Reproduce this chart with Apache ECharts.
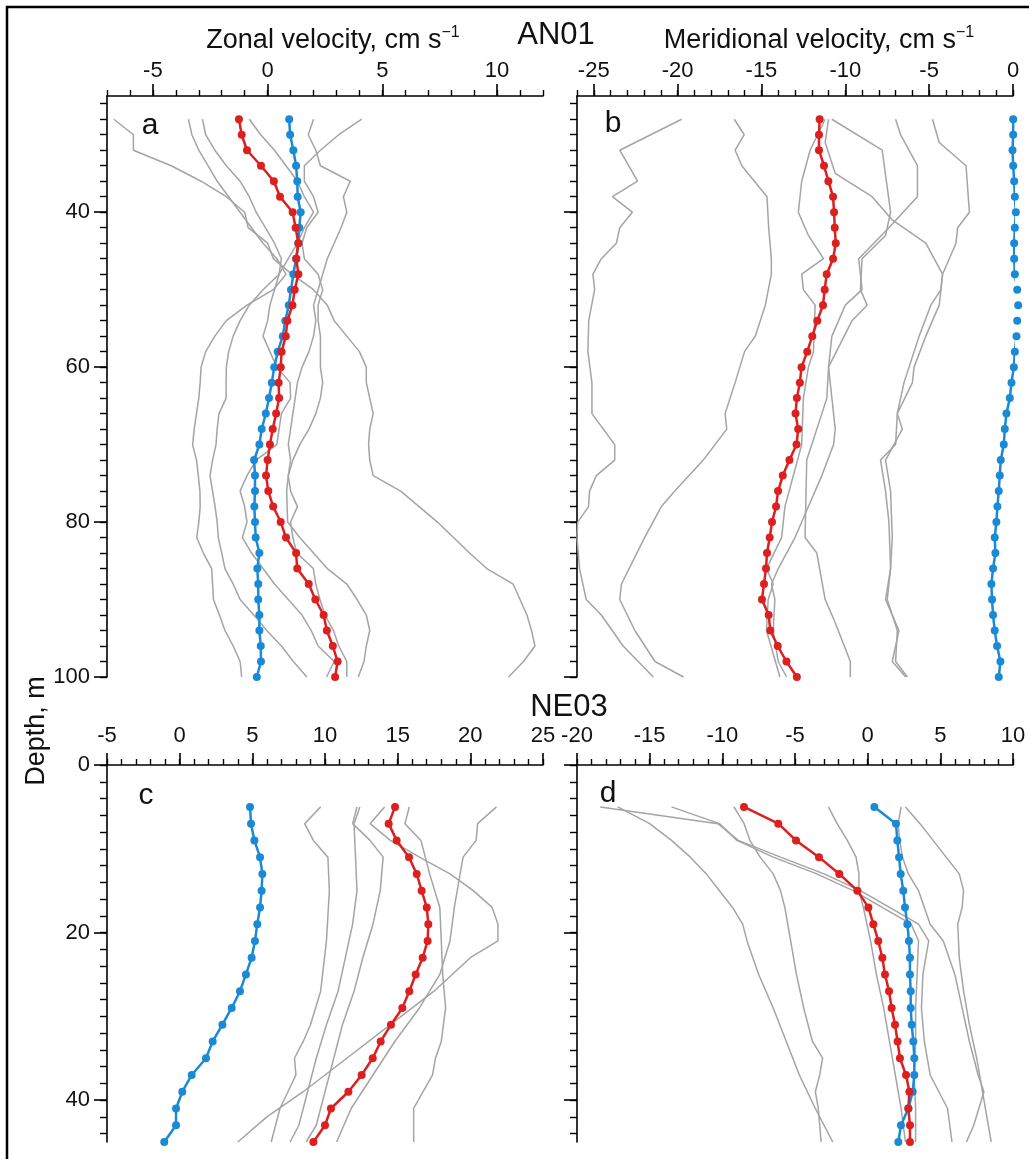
<!DOCTYPE html>
<html>
<head>
<meta charset="utf-8">
<script src="https://cdn.jsdelivr.net/npm/echarts@6/dist/echarts.min.js"></script>
<style>
  html, body { margin: 0; padding: 0; background: #fff; }
  #chart { width: 1029px; height: 1159px; }
</style>
</head>
<body>
<div id="chart"></div>
<script>
// depth levels (m)
const depthAN01 = [28,30,32,34,36,38,40,42,44,46,48,50,52,54,56,58,60,62,64,66,68,70,72,74,76,78,80,82,84,86,88,90,92,94,96,98,100];
const depthNE03 = [5,7,9,11,13,15,17,19,21,23,25,27,29,31,33,35,37,39,41,43,45];

// AN01 zonal (cm/s)
const zonalAN01Red  = [-1.25,-1.13,-0.90,-0.29,0.27,0.54,1.09,1.22,1.34,1.25,1.34,1.18,1.08,0.86,0.79,0.61,0.57,0.48,0.50,0.37,0.22,0.10,0.00,-0.07,0.03,0.24,0.57,0.80,1.24,1.29,1.79,2.08,2.44,2.58,2.84,3.05,2.94];
const zonalAN01Blue = [0.94,0.98,1.12,1.24,1.29,1.31,1.44,1.38,1.34,1.24,1.12,1.02,0.92,0.77,0.66,0.44,0.29,0.18,0.06,-0.08,-0.26,-0.36,-0.59,-0.55,-0.55,-0.58,-0.55,-0.52,-0.36,-0.45,-0.41,-0.41,-0.36,-0.36,-0.30,-0.29,-0.47];
// AN01 meridional
const meridAN01Red  = [-11.53,-11.57,-11.57,-11.27,-11.01,-10.73,-10.67,-10.63,-10.57,-10.73,-11.11,-11.23,-11.33,-11.67,-11.97,-12.27,-12.61,-12.71,-12.89,-12.97,-12.81,-12.91,-13.33,-13.73,-14.01,-14.13,-14.37,-14.51,-14.67,-14.73,-14.85,-14.97,-14.57,-14.47,-14.03,-13.51,-12.89];
const meridAN01Blue = [0.01,0.01,-0.03,0.01,0.07,0.11,0.17,0.11,0.07,0.07,0.11,0.25,0.31,0.25,0.21,0.11,0.05,-0.09,-0.19,-0.39,-0.49,-0.55,-0.73,-0.79,-0.85,-0.93,-0.99,-1.09,-1.05,-1.19,-1.29,-1.25,-1.19,-1.09,-0.95,-0.75,-0.85];
// NE03 zonal
const zonalNE03Red  = [14.82,14.38,14.93,15.78,16.31,16.65,17.0,17.11,17.06,16.72,16.24,15.80,15.32,14.54,13.83,13.28,12.52,11.61,10.41,10.0,9.20];
const zonalNE03Blue = [4.84,4.91,5.14,5.53,5.69,5.64,5.53,5.34,5.18,4.95,4.56,4.15,3.58,2.94,2.27,1.81,0.83,0.18,-0.25,-0.25,-1.06];
// NE03 meridional
const meridNE03Red  = [-8.51,-6.15,-4.93,-3.35,-1.95,-0.71,0.05,0.39,0.73,1.01,1.19,1.47,1.65,1.88,2.06,2.22,2.64,2.87,2.80,2.91,2.91];
const meridNE03Blue = [0.46,1.95,2.04,2.16,2.27,2.45,2.57,2.73,2.84,2.91,2.91,2.96,2.96,3.03,3.14,3.21,3.21,3.10,2.80,2.29,2.11];

// individual profiles, [velocity, depth]
const grayZonalAN01 = [
  [[-6.7,28],[-5.85,30],[-5.85,32],[-4.2,34],[-2.9,36],[-1.8,38],[-1.0,40],[-0.85,42],[0.0,44],[0.25,46],[1.05,48],[2.0,50],[2.6,52],[2.9,54],[3.45,56],[4.0,58],[4.3,60],[4.3,62],[4.45,64],[4.6,66],[4.45,68],[4.4,70],[4.45,72],[4.6,74],[5.8,76],[6.6,78],[7.4,80],[8.1,82],[8.8,84],[9.55,86],[10.7,88],[11.0,90],[11.3,92],[11.5,94],[11.65,96],[11.15,98],[10.5,100]],
  [[4.1,28],[3.1,30],[2.3,32],[1.6,34],[1.6,36],[2.0,38],[2.2,40],[1.7,42],[1.5,44],[1.6,46],[2.2,48],[2.4,50],[2.2,52],[2.2,54],[2.3,56],[2.3,58],[2.3,60],[2.4,62],[2.3,64],[2.1,66],[1.8,68],[1.4,70],[1.1,72],[0.9,74],[0.83,76],[0.85,78],[0.87,80],[1.4,82],[2.0,84],[2.6,86],[3.45,88],[3.9,90],[4.3,92],[4.45,94],[4.3,96],[4.2,98],[3.95,100]],
  [[-3.45,28],[-3.3,30],[-3.0,32],[-2.6,34],[-2.2,36],[-1.7,38],[-1.2,40],[-0.7,42],[-0.2,44],[0.4,46],[0.8,48],[0.25,50],[-0.9,52],[-1.8,54],[-2.3,56],[-2.7,58],[-2.9,60],[-2.94,62],[-3.0,64],[-3.1,66],[-3.2,68],[-3.27,70],[-3.1,72],[-3.02,74],[-2.95,76],[-2.94,78],[-3.0,80],[-3.09,82],[-2.8,84],[-2.44,86],[-2.4,88],[-2.36,90],[-2.1,92],[-1.86,94],[-1.5,96],[-1.2,98],[-1.13,100]],
  [[-2.84,28],[-2.7,30],[-2.3,32],[-1.8,34],[-1.2,36],[-0.8,38],[-0.5,40],[-0.1,42],[0.3,44],[0.6,46],[0.5,48],[-0.2,50],[-0.8,52],[-1.2,54],[-1.5,56],[-1.7,58],[-1.8,60],[-1.81,62],[-1.81,64],[-2.12,66],[-2.2,68],[-2.25,70],[-2.4,72],[-2.51,74],[-2.4,76],[-2.29,78],[-2.2,80],[-2.15,82],[-2.0,84],[-1.86,86],[-1.5,88],[-1.2,90],[-0.6,92],[-0.04,94],[0.6,96],[1.12,98],[1.71,100]],
  [[-0.8,28],[-0.3,30],[0.3,32],[0.8,34],[1.3,36],[1.6,38],[2.0,40],[1.6,42],[1.3,44],[0.9,46],[0.5,48],[0.3,50],[0.1,52],[0.0,54],[-0.2,56],[0.1,58],[0.4,60],[0.98,62],[1.0,64],[0.6,66],[0.5,68],[0.4,70],[-0.5,72],[-0.9,74],[-1.2,76],[-1.0,78],[-0.9,80],[-1.1,82],[-0.7,84],[-0.2,86],[0.3,88],[0.9,90],[1.5,92],[1.9,94],[2.2,96],[2.9,98],[2.57,100]],
  [[2.0,28],[1.77,30],[2.1,32],[2.3,34],[3.6,36],[3.3,38],[3.45,40],[3.2,42],[2.9,44],[2.6,46],[2.4,48],[2.2,50],[2.0,52],[2.1,54],[2.0,56],[1.8,58],[1.5,60],[1.3,62],[1.2,64],[1.1,66],[1.0,68],[0.9,70],[1.0,72],[0.9,74],[1.0,76],[1.3,78],[1.0,80],[1.1,82],[1.27,84],[1.99,86],[2.1,88],[2.28,90],[2.5,92],[2.87,94],[3.1,96],[3.45,98],[3.45,100]]
];
const grayMeridAN01 = [
  [[-19.76,28],[-23.45,32],[-22.39,36],[-23.89,38],[-22.7,40],[-23.45,42],[-23.65,44],[-24.55,46],[-25.05,48],[-24.95,50],[-25.3,54],[-25.35,58],[-25.11,62],[-25.11,66],[-23.75,70],[-23.75,72],[-24.85,74],[-25.25,76],[-25.31,78],[-25.96,80],[-26.0,82],[-25.85,86],[-25.45,90],[-24.55,92],[-23.25,96],[-21.45,100]],
  [[-16.62,28],[-16.03,30],[-16.57,32],[-16.17,34],[-14.67,38],[-14.57,42],[-14.41,46],[-14.41,48],[-14.77,52],[-15.37,56],[-16.01,58],[-16.57,62],[-16.87,64],[-17.17,66],[-17.07,68],[-18.47,72],[-20.17,76],[-20.97,78],[-21.97,82],[-23.35,88],[-23.45,90],[-22.55,94],[-21.35,98],[-19.65,100]],
  [[-11.2,28],[-12.1,32],[-12.6,36],[-12.8,40],[-12.2,43],[-11.3,46],[-12.6,48],[-12.5,50],[-11.8,52],[-11.9,58],[-12.2,60],[-12.5,64],[-12.6,70],[-13.6,78],[-13.8,82],[-14.7,86],[-14.3,88],[-14.6,90],[-14.7,94],[-13.9,100]],
  [[-10.8,28],[-7.8,32],[-7.3,40],[-7.6,43],[-9.0,46],[-9.1,50],[-8.7,52],[-9.6,54],[-11.0,60],[-11.1,64],[-11.4,66],[-12.3,72],[-12.4,82],[-11.7,84],[-11.2,90],[-10.6,93],[-9.7,98],[-9.7,100]],
  [[-11.0,28],[-11.2,31],[-10.6,35],[-8.4,38],[-7.2,41],[-5.2,44],[-4.2,48],[-4.4,52],[-5.2,56],[-5.9,60],[-6.0,62],[-6.9,66],[-7.0,70],[-7.9,72],[-7.6,76],[-7.4,80],[-7.3,86],[-7.6,90],[-6.8,94],[-7.2,98],[-6.4,100]],
  [[-7.0,28],[-6.7,30],[-5.7,34],[-5.7,38],[-7.4,42],[-9.2,46],[-9.0,50],[-10.0,52],[-10.8,56],[-11.0,60],[-10.8,64],[-10.6,68],[-10.7,70],[-11.4,74],[-12.2,78],[-13.0,82],[-14.0,86],[-14.4,88],[-14.2,90],[-14.3,94],[-14.0,98],[-13.5,100]],
  [[-4.8,28],[-4.4,31],[-2.8,34],[-2.6,40],[-3.3,42],[-3.4,44],[-4.2,48],[-4.3,50],[-4.9,52],[-5.6,56],[-6.2,60],[-6.5,62],[-6.9,66],[-6.6,68],[-7.6,72],[-7.3,76],[-7.2,82],[-7.3,86],[-7.5,90],[-6.9,94],[-7.0,98],[-6.3,100]]
];
const grayZonalNE03 = [
  [[9.7,5],[8.6,7],[9.2,9],[10.2,11],[10.3,15],[10.1,21],[9.7,27],[9.0,31],[8.5,33],[7.9,35],[8.0,37],[6.9,41],[6.3,45]],
  [[14.1,5],[13.1,7],[14.5,9],[16.5,11],[18.6,13],[20.2,15],[21.5,17],[21.9,19],[21.9,21],[20.0,23],[17.5,27],[14.5,31],[11.5,35],[8.5,39],[6.0,42],[4.0,45]],
  [[12.4,5],[12.0,7],[12.1,11],[12.2,15],[11.9,19],[11.4,23],[10.9,27],[10.1,31],[9.4,35],[8.8,39],[8.2,43],[7.6,45]],
  [[12.2,5],[11.9,7],[13.1,9],[14.0,11],[13.8,15],[13.3,19],[12.6,23],[12.0,27],[11.2,31],[10.6,35],[10.0,39],[9.4,43],[8.7,45]],
  [[15.8,5],[15.5,7],[16.6,9],[17.2,13],[17.9,17],[18.0,21],[18.1,25],[18.3,29],[18.0,33],[17.6,35],[17.4,37],[16.1,41],[16.1,45]],
  [[21.8,5],[20.5,7],[20.4,9],[19.5,11],[19.3,13],[18.9,17],[18.6,21],[17.9,25],[16.5,29],[14.8,33],[13.3,37],[11.8,41],[10.8,45]]
];
const grayMeridNE03 = [
  [[-17.2,5],[-15.0,7],[-13.5,9],[-12.2,11],[-11.1,13],[-10.2,15],[-9.3,17],[-8.6,19],[-8.3,21],[-7.5,25],[-6.5,29],[-5.6,33],[-4.7,37],[-3.6,41],[-2.4,45]],
  [[-9.2,5],[-8.5,7],[-8.1,9],[-7.4,11],[-6.5,13],[-6.0,15],[-5.7,17],[-5.3,21],[-4.9,25],[-4.4,29],[-3.8,33],[-3.1,35],[-3.3,37],[-3.6,39],[-3.4,41],[-3.2,45]],
  [[-18.4,5],[-10.3,7],[-8.9,9],[-6.0,11],[-3.0,13],[-0.5,15],[1.5,17],[3.5,19],[4.2,21],[4.0,23],[3.8,25],[3.7,29],[3.9,33],[4.3,37],[5.5,41],[5.8,45]],
  [[-13.5,5],[-10.2,7],[-9.0,9],[-6.5,11],[-3.5,13],[-1.0,15],[1.0,17],[3.0,19],[3.5,21],[3.4,25],[3.3,29],[3.3,33],[3.2,37],[3.3,41],[3.3,45]],
  [[-2.7,5],[-2.1,7],[-1.4,9],[-0.8,11],[-0.6,13],[-0.6,15],[-0.3,17],[0.2,21],[0.6,25],[1.1,29],[1.5,33],[1.9,37],[2.3,41],[2.6,45]],
  [[2.6,5],[3.6,7],[4.5,9],[5.4,11],[6.3,13],[6.6,15],[6.5,17],[6.2,19],[6.3,23],[6.6,27],[7.0,31],[7.5,35],[7.9,39],[8.1,41],[8.3,43],[8.5,45]],
  [[2.3,5],[2.1,7],[2.2,9],[2.4,11],[2.8,13],[3.5,15],[3.9,17],[4.3,19],[5.2,21],[6.0,25],[6.5,29],[7.0,33],[7.6,37],[8.0,39],[7.3,43],[6.8,45]]
];

// tick values
const ticksZonalAN01 = [-5, 0, 5, 10];
const ticksMeridAN01 = [-25, -20, -15, -10, -5, 0];
const ticksZonalNE03 = [-5, 0, 5, 10, 15, 20, 25];
const ticksMeridNE03 = [-20, -15, -10, -5, 0, 5, 10];
const depthLabelsAN01 = [40, 60, 80, 100];
const depthMinorAN01 = [26,28,30,32,34,36,38,40,42,44,46,48,50,52,54,56,58,60,62,64,66,68,70,72,74,76,78,80,82,84,86,88,90,92,94,96,98,100];
const depthLabelsNE03 = [0, 20, 40];
const depthMinorNE03 = [0,2,4,6,8,10,12,14,16,18,20,22,24,26,28,30,32,34,36,38,40,42,44];

const F = "'Liberation Sans', Arial, Helvetica, sans-serif";
const RED = '#dc1f1f';
const BLUE = '#1a8ad6';
const GRAY = '#a4a4a4';

const chart = echarts.init(document.getElementById('chart'));

function topAxes(gi, min, max, majors, margin, name, padLeft) {
  const base = { gridIndex: gi, type: 'value', position: 'top', min: min, max: max, splitLine: { show: false } };
  const major = Object.assign({}, base, {
    axisLine: { show: true, onZero: false, lineStyle: { color: '#000', width: 1.6 } },
    axisTick: { show: true, length: 12, customValues: majors, lineStyle: { color: '#000', width: 1.6 } },
    axisLabel: { show: true, customValues: majors, margin: margin, fontSize: 22, fontFamily: F, color: '#111' }
  });
  if (name) {
    major.name = '{m|' + name + '}{s|\u22121}';
    major.nameLocation = 'middle';
    major.nameGap = 39;
    major.nameTextStyle = {
      color: '#111', fontFamily: F, fontSize: 27, padding: [0, 0, 0, padLeft],
      rich: {
        m: { fontSize: 27, fontFamily: F, color: '#111', lineHeight: 32 },
        s: { fontSize: 16, fontFamily: F, color: '#111', lineHeight: 16, verticalAlign: 'top' }
      }
    };
  }
  const minor = Object.assign({}, base, {
    interval: 1,
    axisLine: { show: false, onZero: false },
    axisTick: { show: true, length: 6, lineStyle: { color: '#000', width: 1.4 } },
    axisLabel: { show: false }
  });
  return [major, minor];
}

function leftAxes(gi, min, max, majors, minors, showLabels) {
  const base = { gridIndex: gi, type: 'value', position: 'left', inverse: true, min: min, max: max, splitLine: { show: false } };
  const major = Object.assign({}, base, {
    axisLine: { show: true, onZero: false, lineStyle: { color: '#000', width: 1.6 } },
    axisTick: { show: true, length: 13, customValues: majors, lineStyle: { color: '#000', width: 1.6 } },
    axisLabel: { show: showLabels, customValues: majors, margin: 17, fontSize: 22, fontFamily: F, color: '#111' }
  });
  const minor = Object.assign({}, base, {
    axisLine: { show: false, onZero: false },
    axisTick: { show: true, length: 7, customValues: minors, lineStyle: { color: '#000', width: 1.4 } },
    axisLabel: { show: false }
  });
  return [major, minor];
}

function grayLines(profiles, gi) {
  return profiles.map(function (p) {
    return {
      type: 'line', xAxisIndex: gi * 2, yAxisIndex: gi * 2, data: p,
      symbol: 'none', silent: true, clip: false, z: 2,
      lineStyle: { color: GRAY, width: 1.5 }
    };
  });
}

function meanLine(vals, depths, color, gi, z) {
  return {
    type: 'line', xAxisIndex: gi * 2, yAxisIndex: gi * 2,
    data: vals.map(function (v, i) { return [v, depths[i]]; }),
    symbol: 'circle', symbolSize: 8, clip: false, z: z, silent: true,
    itemStyle: { color: color },
    lineStyle: { color: color, width: 2.5 }
  };
}

function label(text, x, y, size, rot) {
  return {
    type: 'text', x: x, y: y, rotation: rot || 0, silent: true,
    style: { text: text, font: size + 'px ' + F, fill: '#111', align: 'center', verticalAlign: 'middle', textAlign: 'center', textVerticalAlign: 'middle' }
  };
}

const option = {
  animation: false,
  backgroundColor: '#fff',
  grid: [
    { left: 107, top: 96, width: 436, height: 581, outerBoundsMode: 'none' },
    { left: 577, top: 96, width: 436, height: 581, outerBoundsMode: 'none' },
    { left: 107, top: 765, width: 436, height: 377, outerBoundsMode: 'none' },
    { left: 577, top: 765, width: 436, height: 377, outerBoundsMode: 'none' }
  ],
  xAxis: [].concat(
    topAxes(0, -7, 12, ticksZonalAN01, 14, 'Zonal velocity, cm s', 16),
    topAxes(1, -26, 0, ticksMeridAN01, 14, 'Meridional velocity, cm s', 48),
    topAxes(2, -5, 25, ticksZonalNE03, 18),
    topAxes(3, -20, 10, ticksMeridNE03, 18)
  ),
  yAxis: [].concat(
    leftAxes(0, 25, 100, depthLabelsAN01, depthMinorAN01, true),
    leftAxes(1, 25, 100, depthLabelsAN01, depthMinorAN01, false),
    leftAxes(2, 0, 45, depthLabelsNE03, depthMinorNE03, true),
    leftAxes(3, 0, 45, depthLabelsNE03, depthMinorNE03, false)
  ),
  series: [].concat(
    grayLines(grayZonalAN01, 0),
    grayLines(grayMeridAN01, 1),
    grayLines(grayZonalNE03, 2),
    grayLines(grayMeridNE03, 3),
    [
      meanLine(zonalAN01Blue, depthAN01, BLUE, 0, 3),
      meanLine(zonalAN01Red, depthAN01, RED, 0, 4),
      meanLine(meridAN01Blue, depthAN01, BLUE, 1, 3),
      meanLine(meridAN01Red, depthAN01, RED, 1, 4),
      meanLine(zonalNE03Blue, depthNE03, BLUE, 2, 3),
      meanLine(zonalNE03Red, depthNE03, RED, 2, 4),
      meanLine(meridNE03Blue, depthNE03, BLUE, 3, 3),
      meanLine(meridNE03Red, depthNE03, RED, 3, 4)
    ]
  ),
  graphic: [
    { type: 'polyline', silent: true, shape: { points: [[7, 1159], [7, 7], [1029, 7]] },
      style: { stroke: '#000', lineWidth: 2.5, fill: null } },
    label('AN01', 556, 35, 31),
    label('NE03', 569, 707, 31),
    label('a', 150, 126, 30),
    label('b', 613, 124, 30),
    label('c', 146, 796, 30),
    label('d', 608, 794, 30),
    label('Depth, m', 37, 731, 27, Math.PI / 2)
  ]
};

chart.setOption(option);
</script>
</body>
</html>
